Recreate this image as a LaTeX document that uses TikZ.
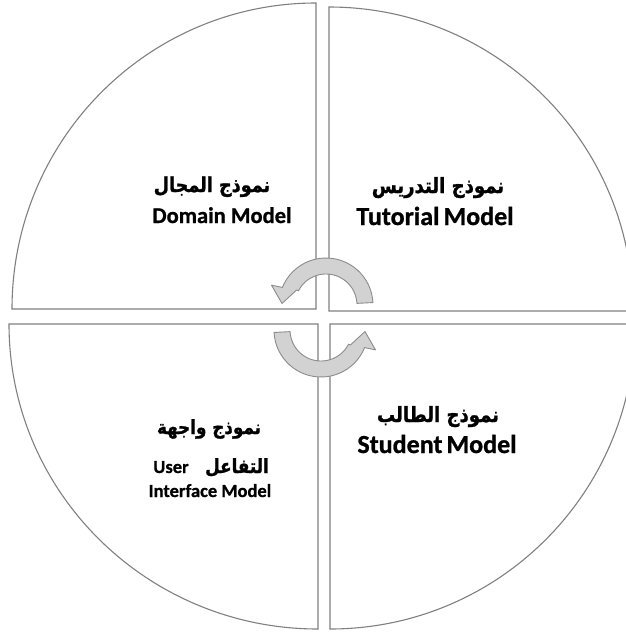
\documentclass[tikz,border=0pt]{standalone}
\usepackage{fontspec}
\setmainfont{Carlito}[BoldFeatures={FakeBold=0.9}]
\newfontfamily\arabicfont[Script=Arabic,FakeStretch=0.86,FakeBold=1.2]{DejaVu Sans}
\TeXXeTstate=1
\definecolor{linegray}{HTML}{808080}
\definecolor{arrowfill}{HTML}{D2D2D2}
\definecolor{arrowline}{HTML}{8C8C8C}
\begin{document}
\begin{tikzpicture}[x=1pt,y=-1pt,
  quad/.style={draw=linegray, line width=1.1pt, fill=white},
  cyc/.style={fill=arrowfill, draw=arrowline, line width=0.9pt, line join=round},
  entxt/.style={inner sep=0pt, anchor=base},
  artxt/.style={inner sep=0pt, anchor=base}]
\useasboundingbox (0,0) rectangle (626,633);
\clip (0,0) rectangle (626,633);
% quadrants
\draw[quad] (316,309) -- (316,3) arc[start angle=-90,end angle=-180,x radius=304,y radius=306] -- cycle;
\draw[quad] (329,311) -- (329,7) arc[start angle=-90,end angle=0,radius=304] -- cycle;
\draw[quad] (318,324) -- (9,324) arc[start angle=180,end angle=90,x radius=309,y radius=305] -- cycle;
\draw[quad] (330,324) -- (330,629) arc[start angle=90,end angle=0,radius=305] -- cycle;
% cycle arrows
\begin{scope}[shift={(326,305)}]
\draw[cyc] (-3:47) arc[start angle=-3,end angle=-158,radius=47] -- (-160:58) -- (-178:44) -- (-153:33) -- (-153:31) arc[start angle=-153,end angle=-3,radius=31] -- cycle;
\end{scope}
\begin{scope}[shift={(321,330)},rotate=180]
\draw[cyc] (-3:47) arc[start angle=-3,end angle=-158,radius=47] -- (-160:58) -- (-178:44) -- (-153:33) -- (-153:31) arc[start angle=-153,end angle=-3,radius=31] -- cycle;
\end{scope}
% texts
\node[artxt, font=\arabicfont\bfseries\fontsize{20.5}{22}\selectfont] (domAr) at (212,192) {\beginR نموذج المجال\endR};
\node[entxt, font=\bfseries\fontsize{22.5}{24}\selectfont] (domEn) at (222,223) {Domain Model};
\node[artxt, font=\arabicfont\bfseries\fontsize{21}{23}\selectfont] (tutAr) at (438,193) {\beginR نموذج التدريس\endR};
\node[entxt, font=\bfseries\fontsize{26}{28}\selectfont] (tutEn) at (435,225) {Tutorial\hspace{4pt}Model};
\node[artxt, font=\arabicfont\bfseries\fontsize{21}{23}\selectfont] (stuAr) at (438,422) {\beginR نموذج الطالب\endR};
\node[entxt, font=\bfseries\fontsize{26}{28}\selectfont] (stuEn) at (437,453) {Student\hspace{4pt}Model};
\node[artxt, font=\arabicfont\bfseries\fontsize{19.5}{21}\selectfont] (uiAr1) at (209,434) {\beginR نموذج واجهة\endR};
\node[artxt, font=\arabicfont\bfseries\fontsize{19.5}{21}\selectfont] (uiAr2) at (237,473) {\beginR التفاعل\endR};
\node[entxt, font=\bfseries\fontsize{18.5}{20}\selectfont] (uiEn1) at (171,473) {User};
\node[entxt, font=\bfseries\fontsize{18.5}{20}\selectfont] (uiEn2) at (210,497) {Interface Model};
\end{tikzpicture}
\end{document}
